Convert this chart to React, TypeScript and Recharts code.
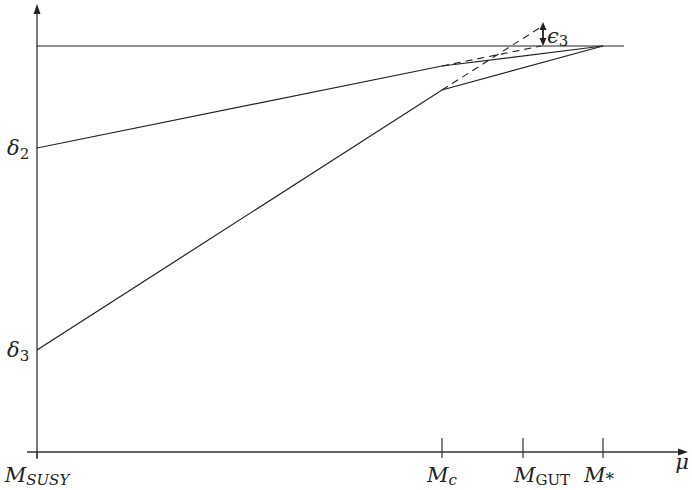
import {
  ComposedChart,
  Line,
  XAxis,
  YAxis,
  ReferenceLine,
  ReferenceDot,
} from "recharts";

// positions along log(mu), in plot units
const muTicks = [0, 405, 486, 566];
const muBase = ["M", "M", "M", "M"];
const muSubs = ["SUSY", "c", "GUT", "*"];

// running couplings (solid), kink at M_c, meet at M_*
const couplingX = [0, 405, 566];
const delta2Values = [304, 386, 406];
const delta3Values = [102, 362, 406];

// unified level line
const unifiedX = [0, 587];
const unifiedValue = 406;

// continuation without the threshold at M_c (dashed)
const dashedX = [405, 504];
const delta2Dashed = [386, 406];
const delta3Dashed = [362, 425];

// epsilon_3 gap
const epsX = 506;
const epsRange = [406, 430];

const yTicks = [304, 102];
const ySubs = ["2", "3"];

const X_MAX = 651;
const Y_MAX = 449;

const INK = "#222";
const SERIF = "DejaVu Serif";

const toPoints = (xs: number[], ys: number[]) => xs.map((x, i) => ({ x, y: ys[i] }));

const delta2Data = toPoints(couplingX, delta2Values);
const delta3Data = toPoints(couplingX, delta3Values);
const unifiedData = unifiedX.map((x) => ({ x, y: unifiedValue }));
const delta2DashedData = toPoints(dashedX, delta2Dashed);
const delta3DashedData = toPoints(dashedX, delta3Dashed);

const labelShift: Record<string, number> = { SUSY: 0, c: 0, GUT: 19, "*": -4 };

function MuTick(props: any) {
  const { x, payload } = props;
  const i = muTicks.indexOf(payload.value);
  if (i < 0) return null;
  const sub = muSubs[i];
  const upright = sub === "GUT" || sub === "*";
  return (
    <text
      x={x + labelShift[sub]}
      y={482}
      textAnchor="middle"
      fontFamily={SERIF}
      fontSize={21}
      fill={INK}
    >
      <tspan fontStyle="italic">{muBase[i]}</tspan>
      <tspan fontSize={sub === "*" ? 17 : 15} dy={3} fontStyle={upright ? "normal" : "italic"}>
        {sub}
      </tspan>
    </text>
  );
}

function DeltaTick(props: any) {
  const { y, payload } = props;
  const i = yTicks.indexOf(payload.value);
  if (i < 0) return null;
  return (
    <text x={7} y={y + 7} fontFamily={SERIF} fontSize={21} fill={INK}>
      <tspan fontStyle="italic">δ</tspan>
      <tspan fontSize={15} dy={4}>
        {ySubs[i]}
      </tspan>
    </text>
  );
}

const arrowUp = (size: number, half: number) => (p: any) =>
  (
    <polygon
      points={`${p.cx},${p.cy} ${p.cx - half},${p.cy + size} ${p.cx + half},${p.cy + size}`}
      fill={INK}
    />
  );

const arrowDown = (size: number, half: number) => (p: any) =>
  (
    <polygon
      points={`${p.cx},${p.cy} ${p.cx - half},${p.cy - size} ${p.cx + half},${p.cy - size}`}
      fill={INK}
    />
  );

const arrowRight = (p: any) => (
  <polygon
    points={`${p.cx},${p.cy} ${p.cx - 10},${p.cy - 3.5} ${p.cx - 10},${p.cy + 3.5}`}
    fill={INK}
  />
);

const muLabel = (p: any) => (
  <text x={p.cx} y={p.cy + 17} textAnchor="middle" fontFamily={SERIF} fontSize={21} fontStyle="italic" fill={INK}>
    μ
  </text>
);

const epsLabel = (p: any) => (
  <text x={p.cx} y={p.cy} fontFamily={SERIF} fontSize={21} fill={INK}>
    <tspan fontStyle="italic">ϵ</tspan>
    <tspan fontSize={15} dy={3}>
      3
    </tspan>
  </text>
);

export default function App() {
  return (
    <div style={{ position: "absolute", left: 0, top: 0, background: "#fff" }}>
      <ComposedChart width={692} height={490} margin={{ top: 3, right: 4, left: 0, bottom: 0 }}>
        <XAxis
          type="number"
          dataKey="x"
          domain={[0, X_MAX]}
          ticks={muTicks}
          tick={<MuTick />}
          axisLine={false}
          tickLine={false}
          height={38}
          interval={0}
          allowDataOverflow
        />
        <YAxis
          type="number"
          dataKey="y"
          domain={[0, Y_MAX]}
          ticks={yTicks}
          tick={<DeltaTick />}
          axisLine={false}
          tickLine={false}
          width={37}
          interval={0}
          allowDataOverflow
        />

        {/* axes */}
        <ReferenceLine
          segment={[{ x: -10, y: 0 }, { x: X_MAX - 8, y: 0 }]}
          stroke="#333"
          strokeWidth={1.3}
          ifOverflow="visible"
        />
        <ReferenceLine
          segment={[{ x: 0, y: -6 }, { x: 0, y: Y_MAX - 7 }]}
          stroke="#333"
          strokeWidth={1.3}
          ifOverflow="visible"
        />
        <ReferenceDot x={X_MAX} y={0} r={0} shape={arrowRight} ifOverflow="visible" />
        <ReferenceDot x={0} y={Y_MAX - 1} r={0} shape={arrowUp(10, 3.5)} ifOverflow="visible" />
        <ReferenceDot x={X_MAX - 6} y={0} r={0} shape={muLabel} ifOverflow="visible" />

        {/* scale tick marks */}
        {muTicks.slice(1).map((t) => (
          <ReferenceLine
            key={t}
            segment={[{ x: t, y: -6 }, { x: t, y: 14 }]}
            stroke="#333"
            strokeWidth={1.2}
            ifOverflow="visible"
          />
        ))}
        <ReferenceLine
          segment={[{ x: 0, y: -7 }, { x: 0, y: 0 }]}
          stroke="#333"
          strokeWidth={1.2}
          ifOverflow="visible"
        />

        <Line data={unifiedData} dataKey="y" type="linear" stroke={INK} strokeWidth={1.2} dot={false} isAnimationActive={false} />
        <Line data={delta2Data} dataKey="y" type="linear" stroke={INK} strokeWidth={1.2} dot={false} isAnimationActive={false} />
        <Line data={delta3Data} dataKey="y" type="linear" stroke={INK} strokeWidth={1.2} dot={false} isAnimationActive={false} />
        <Line
          data={delta2DashedData}
          dataKey="y"
          type="linear"
          stroke={INK}
          strokeWidth={1.1}
          strokeDasharray="7 5"
          dot={false}
          isAnimationActive={false}
        />
        <Line
          data={delta3DashedData}
          dataKey="y"
          type="linear"
          stroke={INK}
          strokeWidth={1.1}
          strokeDasharray="7 5"
          dot={false}
          isAnimationActive={false}
        />

        {/* epsilon_3 double arrow */}
        <ReferenceLine
          segment={[{ x: epsX, y: epsRange[0] + 4 }, { x: epsX, y: epsRange[1] - 4 }]}
          stroke={INK}
          strokeWidth={1.8}
          ifOverflow="visible"
        />
        <ReferenceDot x={epsX} y={epsRange[1]} r={0} shape={arrowUp(8, 3.5)} ifOverflow="visible" />
        <ReferenceDot x={epsX} y={epsRange[0]} r={0} shape={arrowDown(8, 3.5)} ifOverflow="visible" />
        <ReferenceDot x={epsX + 4} y={epsRange[0] + 3} r={0} shape={epsLabel} ifOverflow="visible" />
      </ComposedChart>
    </div>
  );
}
